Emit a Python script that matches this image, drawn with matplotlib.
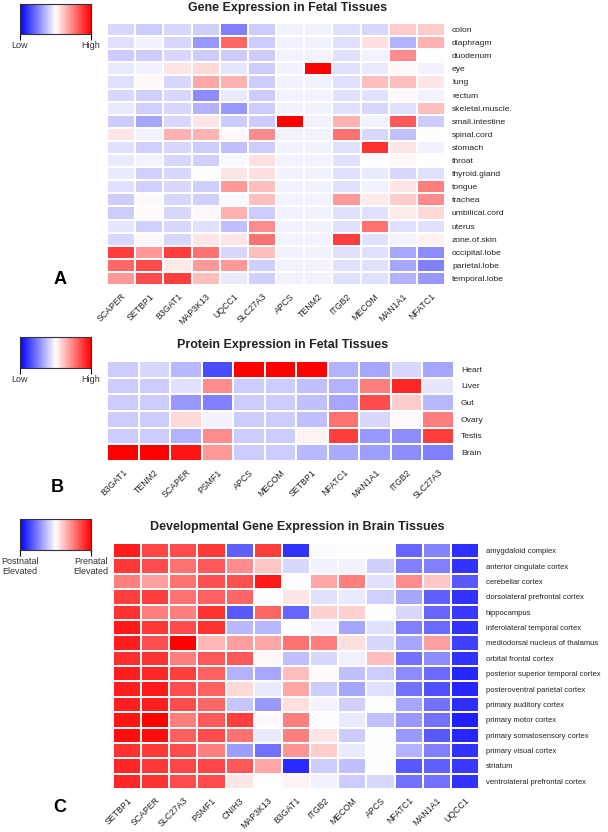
import numpy as np
import matplotlib
matplotlib.use('Agg')
import matplotlib.pyplot as plt

plt.rcParams['font.family'] = ['Liberation Sans', 'DejaVu Sans']

# ---- panel A: gene expression in fetal tissues ----
genes_a = ['SCAPER', 'SETBP1', 'B3GAT1', 'MAP3K13', 'UQCC1', 'SLC27A3',
           'APCS', 'TENM2', 'ITGB2', 'MECOM', 'MAN1A1', 'NFATC1']
tissues_a = ['colon', 'diaphragm', 'duodenum', 'eye', 'lung', 'rectum',
             'skeletal.muscle.', 'small.intestine', 'spinal.cord', 'stomach',
             'throat', 'thyroid.gland', 'tongue', 'trachea', 'umbilical.cord',
             'uterus', 'zone.of.skin', 'occipital.lobe', 'parietal.lobe',
             'temporal.lobe']
expr_a = [
    [-0.15, -0.20, -0.15, -0.18, -0.50, -0.20, -0.05, -0.05, -0.12, -0.15, 0.20, 0.20],
    [-0.12, -0.05, -0.15, -0.40, 0.60, -0.20, -0.05, -0.05, -0.12, 0.12, -0.30, 0.30],
    [-0.20, -0.20, -0.15, -0.20, -0.20, -0.20, -0.05, -0.05, -0.12, -0.05, 0.45, 0.00],
    [-0.08, -0.05, 0.10, 0.15, -0.10, -0.20, -0.05, 1.00, -0.12, -0.08, 0.03, -0.05],
    [-0.12, 0.03, -0.15, 0.35, 0.30, -0.20, -0.05, -0.05, -0.12, 0.25, 0.25, 0.10],
    [-0.15, -0.18, -0.15, -0.45, -0.08, -0.20, -0.05, -0.05, -0.12, -0.12, 0.03, -0.05],
    [-0.08, -0.18, -0.15, -0.30, -0.40, -0.20, -0.05, -0.05, -0.12, -0.15, -0.12, 0.25],
    [-0.20, -0.35, -0.15, 0.10, -0.20, -0.20, 1.00, -0.05, 0.30, -0.05, 0.65, -0.20],
    [0.10, -0.05, 0.30, 0.30, 0.03, 0.45, -0.05, -0.05, 0.55, -0.15, -0.25, 0.00],
    [-0.12, -0.18, -0.15, -0.20, -0.25, -0.20, -0.05, -0.05, -0.12, 0.80, 0.10, -0.05],
    [-0.08, -0.05, -0.15, -0.18, -0.03, 0.12, -0.05, -0.05, -0.12, 0.00, 0.03, 0.00],
    [-0.08, -0.18, -0.15, 0.00, 0.10, 0.12, -0.05, -0.05, -0.12, -0.08, -0.15, -0.12],
    [-0.12, -0.18, -0.15, -0.18, 0.40, 0.25, -0.05, -0.05, -0.12, -0.05, 0.10, 0.50],
    [-0.20, 0.02, -0.15, -0.18, -0.03, 0.25, -0.05, -0.05, 0.40, 0.08, 0.20, 0.45],
    [-0.20, 0.02, -0.15, 0.03, 0.30, -0.20, -0.05, -0.05, -0.12, -0.12, 0.08, 0.15],
    [-0.10, -0.18, -0.15, -0.12, -0.25, 0.45, -0.05, -0.05, -0.12, 0.55, -0.12, -0.12],
    [-0.15, 0.03, -0.15, 0.10, 0.10, 0.55, -0.05, -0.05, 0.75, -0.12, -0.05, 0.06],
    [0.75, 0.40, 0.75, 0.55, -0.15, 0.25, -0.05, -0.05, -0.12, -0.12, -0.35, -0.45],
    [0.60, 0.70, 0.08, 0.40, 0.40, -0.18, -0.05, -0.05, -0.12, -0.12, -0.35, -0.50],
    [0.40, 0.70, 0.75, 0.25, -0.08, -0.18, -0.05, -0.05, -0.12, -0.12, -0.30, -0.40],
]

# ---- panel B: protein expression in fetal tissues ----
genes_b = ['B3GAT1', 'TENM2', 'SCAPER', 'PSMF1', 'APCS', 'MECOM', 'SETBP1',
           'NFATC1', 'MAN1A1', 'ITGB2', 'SLC27A3']
tissues_b = ['Heart', 'Liver', 'Gut', 'Ovary', 'Testis', 'Brain']
expr_b = [
    [-0.20, -0.15, -0.28, -0.70, 1.00, 1.00, 1.00, -0.30, -0.35, -0.15, -0.35],
    [-0.20, -0.20, -0.12, 0.45, -0.20, -0.20, -0.25, -0.30, 0.50, 0.85, -0.10],
    [-0.20, -0.20, -0.40, -0.50, -0.20, -0.20, -0.25, -0.35, 0.70, 0.20, -0.28],
    [-0.20, -0.20, 0.15, -0.05, -0.20, -0.20, -0.25, 0.55, -0.15, 0.02, 0.50],
    [-0.20, -0.20, -0.30, 0.45, -0.20, -0.20, 0.05, 0.75, -0.40, -0.45, 0.75],
    [1.00, 1.00, 0.92, 0.40, -0.20, -0.20, -0.28, -0.33, -0.38, -0.45, -0.50],
]

# ---- panel C: developmental expression in brain tissues ----
genes_c = ['SETBP1', 'SCAPER', 'SLC27A3', 'PSMF1', 'CNIH3', 'MAP3K13', 'B3GAT1',
           'ITGB2', 'MECOM', 'APCS', 'NFATC1', 'MAN1A1', 'UQCC1']
regions_c = ['amygdaloid complex', 'anterior cingulate cortex', 'cerebellar cortex',
             'dorsolateral prefrontal cortex', 'hippocampus',
             'inferolateral temporal cortex', 'mediodorsal nucleus of thalamus',
             'orbital frontal cortex', 'posterior superior temporal cortex',
             'posteroventral parietal cortex', 'primary auditory cortex',
             'primary motor cortex', 'primary somatosensory cortex',
             'primary visual cortex', 'striatum', 'ventrolateral prefrontal cortex']
expr_c = [
    [0.88, 0.72, 0.70, 0.78, -0.62, 0.75, -0.80, -0.02, 0.00, 0.00, -0.60, -0.48, -0.82],
    [0.78, 0.70, 0.55, 0.65, 0.45, 0.22, -0.15, -0.05, -0.05, -0.18, -0.50, -0.50, -0.80],
    [0.50, 0.38, 0.55, 0.68, 0.68, 0.90, 0.00, 0.35, 0.50, -0.12, 0.45, 0.22, -0.65],
    [0.75, 0.75, 0.55, 0.62, 0.60, 0.00, 0.10, -0.12, -0.08, -0.18, -0.35, -0.62, -0.80],
    [0.80, 0.50, 0.50, 0.80, -0.65, 0.60, -0.60, 0.18, 0.18, 0.00, -0.15, -0.60, -0.78],
    [0.90, 0.78, 0.70, 0.80, -0.28, -0.28, 0.00, -0.05, -0.35, -0.12, -0.50, -0.58, -0.80],
    [0.88, 0.68, 1.00, 0.28, 0.38, 0.35, 0.55, 0.50, 0.12, -0.15, -0.35, 0.38, -0.75],
    [0.82, 0.80, 0.50, 0.65, 0.65, 0.03, -0.25, -0.15, -0.06, 0.25, -0.55, -0.45, -0.80],
    [0.88, 0.85, 0.75, 0.62, -0.30, -0.35, 0.25, 0.02, -0.25, -0.20, -0.45, -0.58, -0.85],
    [0.88, 0.90, 0.70, 0.62, 0.15, -0.08, 0.35, -0.20, -0.35, -0.12, -0.55, -0.68, -0.85],
    [0.88, 0.88, 0.70, 0.60, -0.22, -0.40, 0.12, -0.05, -0.18, 0.00, -0.35, -0.55, -0.82],
    [0.92, 1.00, 0.50, 0.65, 0.75, 0.03, 0.50, 0.00, -0.08, -0.25, -0.40, -0.55, -0.88],
    [0.95, 0.95, 0.62, 0.70, 0.55, -0.08, 0.50, 0.10, -0.20, 0.00, -0.40, -0.65, -0.85],
    [0.80, 0.78, 0.70, 0.50, -0.38, -0.55, 0.42, 0.20, -0.08, 0.00, -0.30, -0.50, -0.80],
    [0.85, 0.78, 0.72, 0.72, 0.65, 0.35, -0.83, -0.20, -0.25, 0.00, -0.65, -0.62, -0.78],
    [0.85, 0.80, 0.70, 0.70, 0.10, 0.00, 0.05, -0.05, -0.20, -0.15, -0.55, -0.55, -0.80],
]

W, H = 608, 832
fig = plt.figure(figsize=(W / 100, H / 100), dpi=100)
TXT = '#222222'


def px_axes(x0, y0, x1, y1):
    # axes placed by pixel box (top-left origin)
    return fig.add_axes([x0 / W, 1 - y1 / H, (x1 - x0) / W, (y1 - y0) / H])


def heatmap(ax, data, cols, rows, fs_x, fs_y):
    data = np.array(data)
    ax.pcolormesh(data, cmap='bwr', vmin=-1, vmax=1,
                  edgecolors='white', linewidth=0.3)
    ax.set_xlim(0, data.shape[1])
    ax.set_ylim(data.shape[0], 0)
    ax.set_xticks(np.arange(len(cols)) + 0.5)
    ax.set_xticklabels(cols, rotation=45, ha='right', rotation_mode='anchor',
                       fontsize=fs_x, color=TXT)
    ax.yaxis.tick_right()
    ax.set_yticks(np.arange(len(rows)) + 0.5)
    ax.set_yticklabels(rows, fontsize=fs_y, color=TXT)
    ax.tick_params(length=0, pad=5)
    for s in ax.spines.values():
        s.set_visible(False)


def colorbar(x0, y0, x1, y1, labels):
    ax = px_axes(x0, y0, x1, y1)
    ax.imshow(np.linspace(-1, 1, 256)[None, :], cmap='bwr', aspect='auto',
              extent=[0, 1, 0, 1])
    ax.set_yticks([])
    ax.set_xticks([0, 1])
    ax.set_xticklabels(labels, fontsize=6.5, color='#333333')
    ax.tick_params(axis='x', length=4, width=0.8, pad=1)
    for s in ax.spines.values():
        s.set_linewidth(0.8)
        s.set_color('#333333')


def title(x, y, s):
    fig.text(x / W, 1 - y / H, s, ha='center', va='center', fontsize=9,
             fontweight='bold', color=TXT)


def letter(x, y, s):
    fig.text(x / W, 1 - y / H, s, ha='center', va='center', fontsize=13,
             fontweight='bold', color='black')


# panel A
heatmap(px_axes(107, 23, 445, 285), expr_a, genes_a, tissues_a, 6.3, 6.1)
colorbar(20, 4, 91, 34, ['Low', 'High'])
title(288, 8, 'Gene Expression in Fetal Tissues')
letter(60, 280, 'A')

# panel B
heatmap(px_axes(107, 361, 454, 461), expr_b, genes_b, tissues_b, 6.3, 6.1)
colorbar(20, 337, 91, 368, ['Low', 'High'])
title(283, 345, 'Protein Expression in Fetal Tissues')
letter(57, 488, 'B')

# panel C
heatmap(px_axes(113, 543, 479, 789), expr_c, genes_c, regions_c, 6.3, 5.5)
colorbar(20, 519, 91, 550, ['Postnatal\nElevated', 'Prenatal\nElevated'])
title(297, 527, 'Developmental Gene Expression in Brain Tissues')
letter(60, 808, 'C')

fig.savefig('out.png', dpi=100)
